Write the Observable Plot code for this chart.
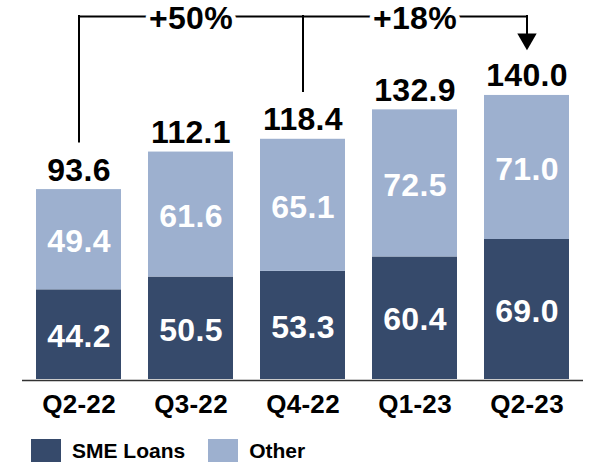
<!DOCTYPE html>
<html>
<head>
<meta charset="utf-8">
<script src="https://cdn.jsdelivr.net/npm/d3@7"></script>
<script src="https://cdn.jsdelivr.net/npm/@observablehq/plot@0.6"></script>
<style>
  body { margin: 0; background: #fff; font-family: "Liberation Sans", Arial, sans-serif; }
  #chart svg { display: block; }
  #chart svg text { letter-spacing: 0.3px; }
  #legend { display: flex; align-items: center; margin-top: 14px; padding-left: 31px; height: 23px;
            font-family: "Liberation Sans", Arial, sans-serif; font-weight: bold; font-size: 21px; color: #000; }
  #legend .item { display: flex; align-items: center; margin-right: 23px; }
  #legend .sw { width: 30px; height: 23px; margin-right: 11px; }
</style>
</head>
<body>
<div id="chart"></div>
<div id="legend"></div>
<script>
// ---- data ----
const quarters = ["Q2-22", "Q3-22", "Q4-22", "Q1-23", "Q2-23"];
const smeLoans = [44.2, 50.5, 53.3, 60.4, 69.0];
const other    = [49.4, 61.6, 65.1, 72.5, 71.0];
const totals   = [93.6, 112.1, 118.4, 132.9, 140.0];
const seriesNames  = ["SME Loans", "Other"];
const seriesColors = ["#364A6B", "#9DB0CF"];
const growthLabels   = ["+50%", "+18%"];
const growthLabelAt  = ["Q3-22", "Q1-23"];
const bracketLegs    = ["Q2-22", "Q4-22"];   // plain vertical legs
const bracketArrowTo = "Q2-23";             // leg ending in an arrow

// ---- layout / style constants ----
const W = 593, H = 425, mTop = 0, mBottom = 46, mLeft = 22, mRight = 10;
const yMax = 186.8;
const pxToUnits = yMax / (H - mTop - mBottom);
const bracketLevel = 178.9;
const legGap = 23.5;

const stacked = [];
quarters.forEach((q, i) => {
  stacked.push({quarter: q, series: seriesNames[0], value: smeLoans[i]});
  stacked.push({quarter: q, series: seriesNames[1], value: other[i]});
});
const totalRows = quarters.map((q, i) => ({quarter: q, total: totals[i]}));
const totalOf = q => totals[quarters.indexOf(q)];

const legRows = bracketLegs.map(q => ({quarter: q, y1: totalOf(q) + legGap, y2: bracketLevel}));
const arrowTip = totalOf(bracketArrowTo) + legGap;
const arrowCenter = arrowTip + 8.66 * pxToUnits;
const arrowRows = [{quarter: bracketArrowTo, y1: arrowCenter, y2: bracketLevel, tip: arrowCenter}];
const labelRows = growthLabels.map((t, i) => ({quarter: growthLabelAt[i], text: t, y: bracketLevel}));

const font = "Liberation Sans, Arial, sans-serif";

const chart = Plot.plot({
  width: W, height: H,
  marginTop: mTop, marginBottom: mBottom, marginLeft: mLeft, marginRight: mRight,
  style: {fontFamily: font, background: "#fff", color: "#000"},
  x: {domain: quarters, paddingInner: 0.244, paddingOuter: 0.1156, label: null},
  y: {domain: [0, yMax], axis: null},
  color: {domain: seriesNames, range: seriesColors},
  marks: [
    Plot.barY(stacked, {x: "quarter", y: "value", fill: "series", order: seriesNames}),
    Plot.ruleY([0], {stroke: "#333", strokeWidth: 1.5, dy: 1}),
    Plot.axisX({tickSize: 0, tickPadding: 15, fontSize: 26, fontWeight: "bold", fill: "#000", label: null, fontFamily: font}),
    Plot.text(stacked, Plot.stackY({x: "quarter", y: "value", z: "series", order: seriesNames,
      text: d => d.value.toFixed(1), fill: "#fff", fontSize: 32, fontWeight: "bold", fontFamily: font, dy: 2})),
    Plot.text(totalRows, {x: "quarter", y: "total", text: d => d.total.toFixed(1),
      lineAnchor: "bottom", dy: -9, fill: "#000", fontSize: 32, fontWeight: "bold", fontFamily: font}),
    // bracket
    Plot.link([{a: quarters[0], b: bracketArrowTo, y: bracketLevel}], {x1: "a", x2: "b", y1: "y", y2: "y",
      stroke: "#000", strokeWidth: 2, strokeLinecap: "square"}),
    Plot.ruleX(legRows, {x: "quarter", y1: "y1", y2: "y2", stroke: "#000", strokeWidth: 2, strokeLinecap: "square"}),
    Plot.ruleX(arrowRows, {x: "quarter", y1: "y1", y2: "y2", stroke: "#000", strokeWidth: 2, strokeLinecap: "square"}),
    Plot.dot(arrowRows, {x: "quarter", y: "tip", symbol: "triangle", r: 7.2, rotate: 180, fill: "#000", stroke: null}),
    Plot.text(labelRows, {x: "quarter", y: "y", text: "text", fill: "#000", stroke: "#fff", strokeWidth: 9,
      fontSize: 32, fontWeight: "bold", fontFamily: font, dy: 2})
  ]
});
document.getElementById("chart").appendChild(chart);

const legend = document.getElementById("legend");
seriesNames.forEach((name, i) => {
  const item = document.createElement("div");
  item.className = "item";
  const sw = document.createElement("div");
  sw.className = "sw";
  sw.style.background = seriesColors[i];
  const label = document.createElement("span");
  label.textContent = name;
  item.appendChild(sw);
  item.appendChild(label);
  legend.appendChild(item);
});
</script>
</body>
</html>
